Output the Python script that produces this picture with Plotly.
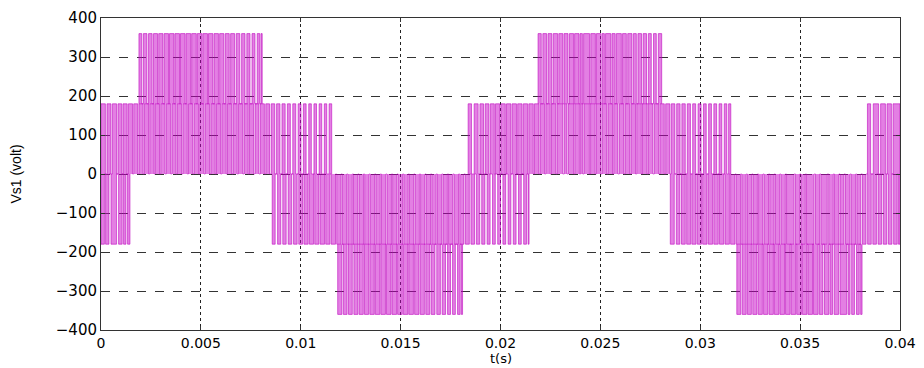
import plotly.graph_objects as go

# ---- data (times in ms) : each band = pulse train between a "near" and a "far" level
# edges alternate: pulse on, pulse off, pulse on, ...
band_A_levels = (0, 180)
band_A_edges = [0.00,0.22, 0.30,0.50, 0.57,0.78, 0.85,1.04, 1.10,1.31, 1.37,1.58, 1.64,1.84, 1.90,2.11,
                2.17,2.38, 2.44,2.66, 2.71,2.93, 2.99,3.21, 3.27,3.49, 3.55,3.76, 3.82,4.04, 4.10,4.32,
                4.38,4.60, 4.66,4.88, 4.94,5.16, 5.22,5.44, 5.50,5.72, 5.78,5.99, 6.05,6.27, 6.33,6.55,
                6.61,6.82, 6.88,7.10, 7.16,7.37, 7.43,7.64, 7.71,7.91, 7.98,8.18, 8.25,8.44, 8.52,8.70,
                8.79,8.96, 9.06,9.22, 9.33,9.48, 9.60,9.75, 9.87,10.01, 10.13,10.27, 10.40,10.53,
                10.66,10.79, 10.92,11.05, 11.18,11.30, 11.42,11.55]
band_B_levels = (180, 360)
band_B_edges = [1.90,2.04, 2.12,2.30, 2.38,2.56, 2.63,2.83, 2.89,3.10, 3.16,3.38, 3.43,3.65, 3.70,3.93,
                3.98,4.21, 4.26,4.49, 4.54,4.77, 4.82,5.05, 5.10,5.33, 5.38,5.60, 5.66,5.88, 5.94,6.15,
                6.22,6.42, 6.49,6.69, 6.77,6.95, 7.04,7.21, 7.30,7.46, 7.56,7.71, 7.82,7.95, 8.01,8.07]
band_C_levels = (0, -180)
band_C_edges = [0.00,0.17, 0.23,0.40, 0.50,0.78, 0.88,1.06, 1.13,1.25, 1.33,1.45]
band_D_levels = (0, -180)
band_D_edges = [8.57,8.72, 8.84,9.00, 9.10,9.27, 9.37,9.55, 9.64,9.82, 9.90,10.09, 10.16,10.37, 10.43,10.64,
                10.70,10.91, 10.97,11.19, 11.25,11.46, 11.52,11.74, 11.80,12.02, 12.08,12.30, 12.36,12.58,
                12.64,12.86, 12.92,13.14, 13.20,13.42, 13.48,13.70, 13.76,13.98, 14.04,14.26, 14.32,14.54,
                14.60,14.82, 14.88,15.10, 15.16,15.38, 15.44,15.66, 15.72,15.94, 16.00,16.22, 16.28,16.50,
                16.56,16.78, 16.84,17.06, 17.12,17.34, 17.40,17.62, 17.68,17.90, 17.96,18.17, 18.24,18.44,
                18.52,18.70, 18.79,18.96, 19.06,19.22, 19.33,19.48, 19.60,19.74, 19.86,20.00, 20.12,20.26,
                20.38,20.52, 20.64,20.78, 20.90,21.04, 21.16,21.30, 21.38,21.43]
band_E_levels = (-180, -360)
band_E_edges = [11.85,12.06, 12.13,12.32, 12.39,12.58, 12.66,12.86, 12.92,13.13, 13.19,13.40, 13.46,13.68,
                13.73,13.96, 14.01,14.24, 14.29,14.52, 14.57,14.80, 14.85,15.08, 15.13,15.36, 15.41,15.64,
                15.70,15.92, 15.98,16.19, 16.26,16.46, 16.53,16.72, 16.81,16.99, 17.08,17.25, 17.35,17.50,
                17.60,17.74, 17.85,17.98, 18.04,18.10]
band_F_levels = (0, 180)
band_F_edges = [18.38,18.55, 18.68,18.88, 18.97,19.15, 19.23,19.42, 19.49,19.69, 19.75,19.96, 20.02,20.24,
                20.30,20.52, 20.58,20.80, 20.86,21.08, 21.14,21.36, 21.42,21.64, 21.70,21.92, 21.98,22.21,
                22.27,22.49, 22.55,22.78, 22.84,23.12, 23.19,23.33, 23.40,23.66, 23.72,23.95, 24.01,24.12,
                24.18,24.45, 24.51,24.74, 24.80,25.03, 25.09,25.32, 25.38,25.61, 25.67,25.88, 25.95,26.18,
                26.24,26.47, 26.53,26.76, 26.82,27.05, 27.11,27.34, 27.40,27.63, 27.70,27.92, 27.98,28.20,
                28.27,28.48, 28.55,28.73, 28.82,28.99, 29.08,29.25, 29.35,29.51, 29.62,29.77, 29.89,30.04,
                30.16,30.30, 30.42,30.56, 30.68,30.82, 30.94,31.08, 31.20,31.33, 31.42,31.53]
band_G_levels = (180, 360)
band_G_edges = [21.88,22.04, 22.12,22.31, 22.38,22.57, 22.64,22.86, 22.92,23.12, 23.18,23.38, 23.45,23.66,
                23.71,23.93, 23.98,24.10, 24.16,24.46, 24.52,24.75, 24.80,25.02, 25.08,25.20, 25.26,25.52,
                25.58,25.74, 25.80,26.05, 26.11,26.30, 26.37,26.58, 26.65,26.80, 26.88,27.06, 27.14,27.31,
                27.40,27.55, 27.66,27.80, 27.90,28.07]
band_H_levels = (0, -180)
band_H_edges = [28.50,28.70, 28.80,28.98, 29.06,29.25, 29.32,29.52, 29.58,29.79, 29.85,30.06, 30.12,30.34,
                30.40,30.62, 30.68,30.90, 30.96,31.18, 31.24,31.46, 31.52,31.74, 31.80,32.02, 32.08,32.30,
                32.36,32.58, 32.64,32.86, 32.92,33.14, 33.20,33.42, 33.48,33.70, 33.76,33.98, 34.04,34.26,
                34.32,34.70, 34.77,34.98, 35.04,35.26, 35.32,35.70, 35.77,35.98, 36.04,36.36, 36.43,36.66,
                36.72,36.94, 37.00,37.20, 37.27,37.50, 37.56,37.78, 37.84,38.04, 38.12,38.30, 38.38,38.56,
                38.64,38.82, 38.90,39.08, 39.16,39.34, 39.42,39.60, 39.68,39.86, 39.92,40.00]
band_I_levels = (-180, -360)
band_I_edges = [31.83,32.03, 32.10,32.30, 32.36,32.56, 32.63,32.84, 32.90,33.11, 33.17,33.38, 33.44,33.66,
                33.71,33.94, 33.99,34.22, 34.27,34.50, 34.55,34.78, 34.83,35.06, 35.11,35.34, 35.39,35.62,
                35.67,35.90, 35.96,36.14, 36.22,36.44, 36.50,36.62, 36.70,36.93, 37.00,37.33, 37.40,37.50,
                37.58,37.72, 37.82,37.96, 38.03,38.10]
band_J_levels = (0, 180)
band_J_edges = [38.37,38.53, 38.66,38.93, 39.03,39.27, 39.35,39.57, 39.65,40.00]

bands = [
    (band_A_levels, band_A_edges), (band_B_levels, band_B_edges), (band_C_levels, band_C_edges),
    (band_D_levels, band_D_edges), (band_E_levels, band_E_edges), (band_F_levels, band_F_edges),
    (band_G_levels, band_G_edges), (band_H_levels, band_H_edges), (band_I_levels, band_I_edges),
    (band_J_levels, band_J_edges),
]

x_ticks = [0, 0.005, 0.01, 0.015, 0.02, 0.025, 0.03, 0.035, 0.04]
x_tick_labels = ["0", "0.005", "0.01", "0.015", "0.02", "0.025", "0.03", "0.035", "0.04"]
y_ticks = [-400, -300, -200, -100, 0, 100, 200, 300, 400]

FILL = "rgba(200,0,200,0.50)"
EDGE = "rgba(190,0,190,0.95)"

fig = go.Figure()
for (near, far), edges in bands:
    xs = [e / 1000.0 for e in edges]
    fig.add_trace(go.Scatter(x=[xs[0], xs[-1]], y=[near, near], mode="lines",
                             line=dict(width=0), hoverinfo="skip", showlegend=False))
    px = [xs[0]] + xs
    py = [near] + [far if i % 2 == 0 else near for i in range(len(xs))]
    fig.add_trace(go.Scatter(x=px, y=py, mode="lines", line_shape="hv",
                             line=dict(color=EDGE, width=0.6), fill="tonexty",
                             fillcolor=FILL, showlegend=False, hoverinfo="skip"))

ytick_font = dict(family="DejaVu Sans, Verdana, sans-serif", size=15, color="black")
xtick_font = dict(family="DejaVu Sans, Verdana, sans-serif", size=14, color="black")
# the page body adds an 8px offset, so the figure is sized to fit the window
fig.update_layout(
    width=916, height=360,
    margin=dict(l=93, r=24, t=10, b=38),
    paper_bgcolor="white", plot_bgcolor="white",
    font=dict(family="Liberation Sans, Arial, sans-serif", size=14, color="black"),
    showlegend=False,
    xaxis=dict(range=[0, 0.04], tickvals=x_ticks, ticktext=x_tick_labels, automargin=False,
               tickfont=xtick_font,
               showgrid=True, gridcolor="#222", gridwidth=1, griddash="dot",
               showline=True, linecolor="#333", linewidth=1, mirror="ticks",
               ticks="inside", ticklen=4, tickcolor="#333", zeroline=False),
    yaxis=dict(range=[-400, 400], tickvals=y_ticks, automargin=False,
               tickfont=ytick_font,
               showgrid=True, gridcolor="#333", gridwidth=1, griddash="dash",
               showline=True, linecolor="#333", linewidth=1, mirror="ticks",
               ticks="inside", ticklen=4, tickcolor="#333", zeroline=False,
               title=dict(text="Vs1 (volt)", font=dict(size=14), standoff=32)),
    annotations=[dict(text="t(s)", xref="paper", yref="paper", x=0.5, y=0,
                      xanchor="center", yanchor="top", yshift=-20, showarrow=False,
                      borderpad=0,
                      font=dict(family="DejaVu Sans, sans-serif", size=13, color="black"))],
)

fig.write_html("out.html")
